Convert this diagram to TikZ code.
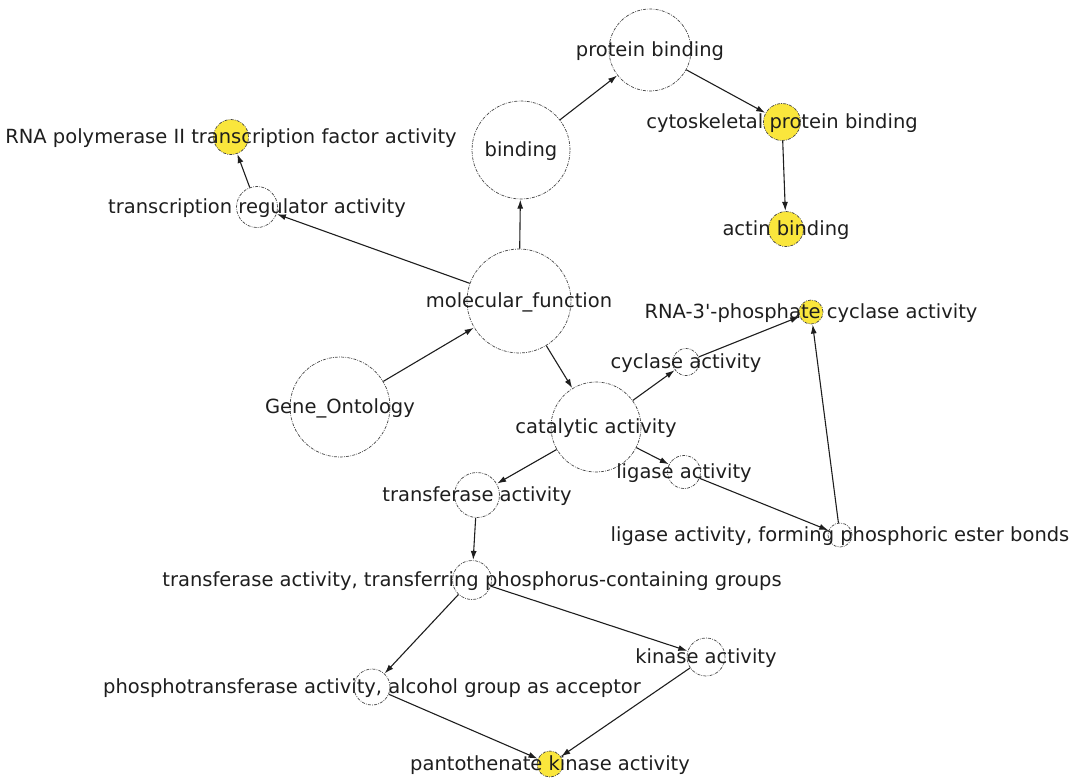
\documentclass[tikz,border=0pt]{standalone}
\usepackage{fontspec}
\setmainfont{DejaVu Sans}
\usetikzlibrary{arrows.meta}
\definecolor{hit}{RGB}{250,230,60}
\definecolor{ink}{RGB}{30,30,30}
\definecolor{rim}{RGB}{70,70,70}
\tikzset{
  term/.style={circle, draw=rim, line width=0.7pt, dash pattern=on 3pt off 1.2pt on 0.8pt off 1.2pt, fill=white, inner sep=0pt, minimum size=#1},
  hitterm/.style={term=#1, fill=hit},
  lbl/.style={text=ink, font=\fontsize{19.5}{21}\selectfont, inner sep=0pt, yshift=-1.5pt},
  isa/.style={draw=ink, line width=1.1pt, -{Latex[length=9pt,width=6pt]}, shorten >=0.3pt}
}
\begin{document}
\begin{tikzpicture}[x=1pt, y=-1pt]
\useasboundingbox (0,0) rectangle (1073,780);
% term circles
\node[term=82pt]  (pb)  at (650,50)  {};
\node[term=98pt]  (bd)  at (521,150) {};
\node[hitterm=37pt] (cpb) at (782,122) {};
\node[hitterm=35pt] (ab)  at (786,229) {};
\node[hitterm=35pt] (rna) at (231,137) {};
\node[term=41pt]  (tra) at (257,207) {};
\node[term=104pt] (mf)  at (519,301) {};
\node[term=100pt] (go)  at (340,407) {};
\node[term=90pt]  (cat) at (596,427) {};
\node[term=27pt]  (cyc) at (686,362) {};
\node[hitterm=24pt] (rp) at (811,312) {};
\node[term=33pt]  (lig) at (684,472) {};
\node[term=24pt]  (lfp) at (840,535) {};
\node[term=45pt]  (tfa) at (477,495) {};
\node[term=39pt]  (tft) at (472,580) {};
\node[term=38pt]  (kin) at (706,657) {};
\node[term=36pt]  (pta) at (372,687) {};
\node[hitterm=26pt] (pan) at (550,764) {};
% is-a relations
\draw[isa] (bd)  -- (pb);
\draw[isa] (pb)  -- (cpb);
\draw[isa] (cpb) -- (ab);
\draw[isa] (mf)  -- (bd);
\draw[isa] (mf)  -- (tra);
\draw[isa] (tra) -- (rna);
\draw[isa] (go)  -- (mf);
\draw[isa] (mf)  -- (cat);
\draw[isa] (cat) -- (cyc);
\draw[isa] (cyc) -- (rp);
\draw[isa] (cat) -- (lig);
\draw[isa] (lig) -- (lfp);
\draw[isa] (lfp) -- (rp);
\draw[isa] (cat) -- (tfa);
\draw[isa] (tfa) -- (tft);
\draw[isa] (tft) -- (kin);
\draw[isa] (tft) -- (pta);
\draw[isa] (pta) -- (pan);
\draw[isa] (kin) -- (pan);
% term names
\node[lbl] (pbL)  at (pb)  {protein binding};
\node[lbl] (bdL)  at (bd)  {binding};
\node[lbl] (cpbL) at (cpb) {cytoskeletal protein binding};
\node[lbl] (abL)  at (ab)  {actin binding};
\node[lbl] (rnaL) at (rna) {RNA polymerase II transcription factor activity};
\node[lbl] (traL) at (tra) {transcription regulator activity};
\node[lbl] (mfL)  at (mf)  {molecular\_function};
\node[lbl] (goL)  at (go)  {Gene\_Ontology};
\node[lbl] (catL) at (cat) {catalytic activity};
\node[lbl] (cycL) at (cyc) {cyclase activity};
\node[lbl] (rpL)  at (rp)  {RNA-3\textquotesingle-phosphate cyclase activity};
\node[lbl] (ligL) at (lig) {ligase activity};
\node[lbl] (lfpL) at (lfp) {ligase activity, forming phosphoric ester bonds};
\node[lbl] (tfaL) at (tfa) {transferase activity};
\node[lbl] (tftL) at (tft) {transferase activity, transferring phosphorus-containing groups};
\node[lbl] (kinL) at (kin) {kinase activity};
\node[lbl] (ptaL) at (pta) {phosphotransferase activity, alcohol group as acceptor};
\node[lbl] (panL) at (pan) {pantothenate kinase activity};
\end{tikzpicture}
\end{document}
